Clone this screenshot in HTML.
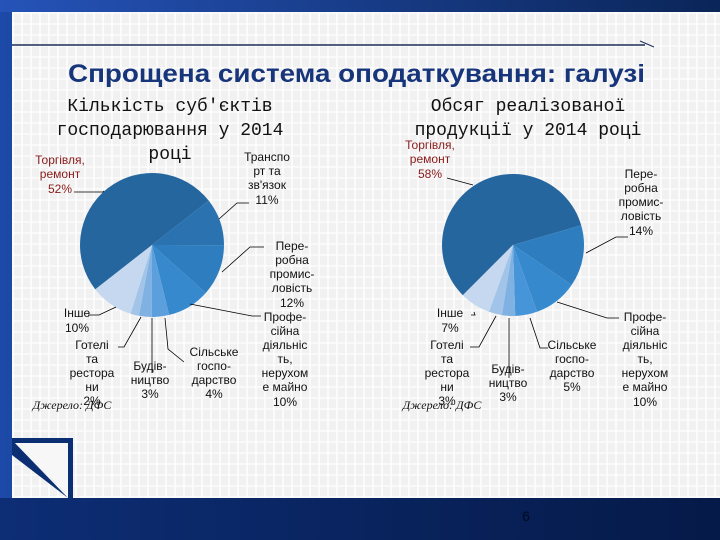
<!DOCTYPE html>
<html><head><meta charset="utf-8"><style>
html,body{margin:0;padding:0}
body{width:720px;height:540px;position:relative;overflow:hidden;background:linear-gradient(90deg,#1d4aa8 0%,#0e2a6a 40%,#051a48 100%);font-family:"Liberation Sans","DejaVu Sans",sans-serif}
#panel{position:absolute;left:12px;top:12px;width:708px;height:486px;background:#f1f1f1;background-image:repeating-linear-gradient(90deg,rgba(255,255,255,.7) 0 2px,transparent 2px 9px),repeating-linear-gradient(0deg,rgba(255,255,255,.6) 0 2px,transparent 2px 11px)}
#topband{position:absolute;left:0;top:0;width:720px;height:12px;background:linear-gradient(90deg,#2553b8,#0a2558)}
#bottom{position:absolute;left:0;top:498px;width:720px;height:42px;background:linear-gradient(90deg,#0d2d75,#051a48)}
svg{position:absolute;left:0;top:0}
</style></head><body>
<div id="topband"></div>
<div id="panel"></div>
<div id="bottom"></div>
<svg width="720" height="540" id="chart">
<polygon points="12,440 72,440 72,498" fill="#f7f7f7"/>
<polyline points="12,440 12,455 68,498" fill="#0c2e73"/>
<rect x="12" y="438" width="61" height="5" fill="#0c2e73"/>
<rect x="68" y="438" width="5" height="60" fill="#0c2e73"/>
<line x1="12" y1="45" x2="645" y2="45" stroke="#1a2f5a" stroke-width="1.5"/>
<line x1="640" y1="41" x2="654" y2="47" stroke="#1a2f5a" stroke-width="1"/>
<text x="68" y="82" font-size="25" font-weight="bold" fill="#17357a" textLength="577" lengthAdjust="spacingAndGlyphs">Спрощена система оподаткування: галузі</text>
<g font-family="Liberation Mono, DejaVu Sans Mono, monospace" font-size="18" fill="#111" text-anchor="middle">
<text x="170" y="111">Кількість суб'єктів</text>
<text x="170" y="135">господарювання у 2014</text>
<text x="170" y="159">році</text>
<text x="528" y="111">Обсяг реалізованої</text>
<text x="528" y="135">продукції  у 2014 році</text>
</g>
<g id="left"></g>
<g id="right"></g>
<g font-size="12" fill="#111" text-anchor="middle">
<g fill="#8a1a1a"><text x="60" y="164">Торгівля,</text><text x="60" y="178">ремонт</text><text x="60" y="193">52%</text></g>
<g><text x="267" y="161">Транспо</text><text x="267" y="175">рт та</text><text x="267" y="189">зв'язок</text><text x="267" y="204">11%</text></g>
<g><text x="292" y="250">Пере-</text><text x="292" y="264">робна</text><text x="292" y="278">промис-</text><text x="292" y="292">ловість</text><text x="292" y="307">12%</text></g>
<g><text x="285" y="321">Профе-</text><text x="285" y="335">сійна</text><text x="285" y="349">діяльніс</text><text x="285" y="363">ть,</text><text x="285" y="377">нерухом</text><text x="285" y="391">е майно</text><text x="285" y="406">10%</text></g>
<g><text x="214" y="356">Сільське</text><text x="214" y="370">госпо-</text><text x="214" y="384">дарство</text><text x="214" y="398">4%</text></g>
<g><text x="150" y="370">Будів-</text><text x="150" y="384">ництво</text><text x="150" y="398">3%</text></g>
<g><text x="92" y="349">Готелі</text><text x="92" y="363">та</text><text x="92" y="377">рестора</text><text x="92" y="391">ни</text><text x="92" y="405">2%</text></g>
<g><text x="77" y="317">Інше</text><text x="77" y="332">10%</text></g>
<text x="72" y="409" font-style="italic" font-family="Liberation Serif, serif">Джерело: ДФС</text>
<g fill="#8a1a1a"><text x="430" y="149">Торгівля,</text><text x="430" y="163">ремонт</text><text x="430" y="178">58%</text></g>
<g><text x="641" y="178">Пере-</text><text x="641" y="192">робна</text><text x="641" y="206">промис-</text><text x="641" y="220">ловість</text><text x="641" y="235">14%</text></g>
<g><text x="645" y="321">Профе-</text><text x="645" y="335">сійна</text><text x="645" y="349">діяльніс</text><text x="645" y="363">ть,</text><text x="645" y="377">нерухом</text><text x="645" y="391">е майно</text><text x="645" y="406">10%</text></g>
<g><text x="572" y="349">Сільське</text><text x="572" y="363">госпо-</text><text x="572" y="377">дарство</text><text x="572" y="391">5%</text></g>
<g><text x="508" y="373">Будів-</text><text x="508" y="387">ництво</text><text x="508" y="401">3%</text></g>
<g><text x="447" y="349">Готелі</text><text x="447" y="363">та</text><text x="447" y="377">рестора</text><text x="447" y="391">ни</text><text x="447" y="405">3%</text></g>
<g><text x="450" y="317">Інше</text><text x="450" y="332">7%</text></g>
<text x="442" y="409" font-style="italic" font-family="Liberation Serif, serif">Джерело: ДФС</text>
</g>
<text x="526" y="521" font-size="14" fill="#020a20" text-anchor="middle">6</text>
</svg>
<script>
const leftCats=["Торгівля","Транспорт","Переробна","Професійна","Сільське","Будівництво","Готелі","Інше"];
const leftVals=[52,11,12,10,4,3,2,10];
const rightCats=["Торгівля","Переробна","Професійна","Сільське","Будівництво","Готелі","Інше"];
const rightVals=[58,14,10,5,3,3,7];
const leftColors=["#25669f","#2a72b0","#2e7dbe","#3689cd","#5b9fdc","#7fb1e2","#a3c4e9","#c5d8ef"];
const rightColors=["#25669f","#2e7dbe","#3689cd","#4695d9","#7fb1e2","#a3c4e9","#c5d8ef"];
const NS="http://www.w3.org/2000/svg";
function drawPie(gid,vals,colors,cx,cy,r,start){
  const g=document.getElementById(gid);
  const total=vals.reduce((a,b)=>a+b,0);
  let a=start;
  vals.forEach((v,i)=>{
    const sweep=v/total*360;
    const a0=(a-90)*Math.PI/180,a1=(a+sweep-90)*Math.PI/180;
    const x0=cx+r*Math.cos(a0),y0=cy+r*Math.sin(a0),x1=cx+r*Math.cos(a1),y1=cy+r*Math.sin(a1);
    const p=document.createElementNS(NS,"path");
    p.setAttribute("d",`M${cx},${cy}L${x0},${y0}A${r},${r} 0 ${sweep>180?1:0} 1 ${x1},${y1}Z`);
    p.setAttribute("fill",colors[i]);
    
    
    g.appendChild(p);
    a+=sweep;
  });
}
drawPie("left",leftVals,leftColors,152,245,72,232);
drawPie("right",rightVals,rightColors,513,245,71,225);
function ln(pts){const l=document.createElementNS(NS,"polyline");l.setAttribute("points",pts);l.setAttribute("fill","none");l.setAttribute("stroke","#000");l.setAttribute("stroke-width","0.8");


document.getElementById("chart").appendChild(l);}
[
"74,192 103,192 104,191","249,203 237,203 219,219","264,247 250,247 222,272","261,316 252,316 190,304","184,362 168,349 165,318","152,373 152,318","118,347 124,347 141,317","88,315 99,315 116,307",
"447,178 473,185","628,237 616,237 586,253","619,318 607,318 557,302","548,348 540,348 530,318","509,378 509,318","470,347 479,347 496,316","471,315 475,315 474,312"
].forEach(ln);
</script>
</body></html>
